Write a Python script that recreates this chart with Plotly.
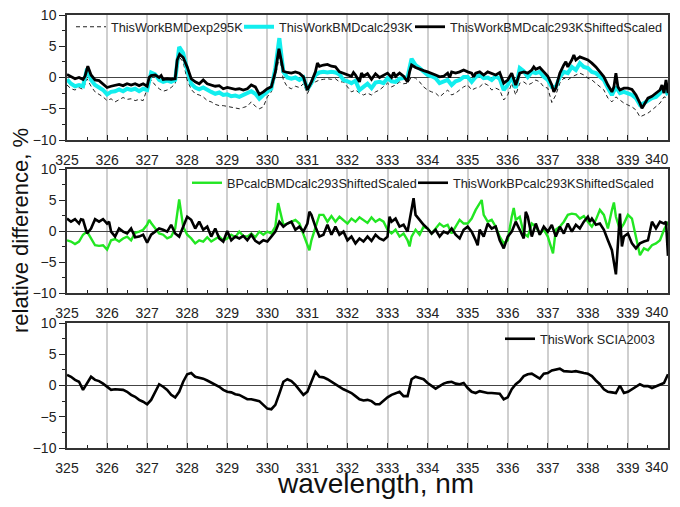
import plotly.graph_objects as go

# ---------------- data ----------------
wl_grid = [round(325 + 0.1 * i, 1) for i in range(151)]

# Panel 1
p1_exp295 = [
    -1.2, -1.8, -2.0, -1.6, -1.9, -0.2, -1.4, -2.3, -2.7, -3.1,
    -3.7, -3.4, -3.9, -3.5, -3.2, -3.5, -3.4, -3.7, -3.5, -3.7,
    -1.8, -0.4, -1.2, -1.8, -2.2, -2.0, -1.6, -1.0, 3.3, 2.5,
    -0.4, -1.9, -2.6, -2.8, -3.1, -3.7, -3.9, -4.3, -4.5, -4.5,
    -4.6, -4.7, -4.8, -5.0, -4.8, -4.6, -3.9, -4.6, -5.0, -4.7,
    -3.1, -2.3, 0.1, 3.3, -0.4, -1.5, -1.8, -1.4, -1.6, -1.0,
    -2.6, -1.2, -0.7, -0.4, -0.3, -0.2, -0.3, -0.2, -0.7, -0.7,
    -1.5, -2.3, -2.0, -2.5, -2.8, -2.5, -2.8, -2.3, -2.0, -1.5,
    -0.9, -1.5, -1.2, -0.7, -1.0, -0.9, 0.1, -0.1, -0.7, -1.5,
    -2.0, -2.3, -2.5, -3.1, -2.5, -2.0, -2.8, -2.5, -2.0, -1.5,
    -1.2, -2.0, -1.7, -1.5, -0.9, -1.2, -2.0, -1.7, -2.0, -3.6,
    -2.8, -0.9, -2.8, -0.9, -0.7, -1.2, -0.9, -0.4, -0.7, -1.5,
    -1.7, -4.0, -2.8, -0.9, -0.1, -0.4, 0.1, 0.4, 0.7, 0.4,
    -0.1, -0.4, -0.9, -1.5, -2.0, -3.3, -3.9, -3.1, -3.6, -4.1,
    -4.4, -4.7, -5.2, -6.3, -6.0, -5.7, -5.2, -4.7, -4.1, -3.1,
    -3.3,
]

p1_calc293 = [
    -0.3, -1.0, -1.4, -1.2, -1.4, 1.4, -0.4, -1.2, -1.6, -2.0,
    -2.7, -2.3, -2.2, -1.9, -2.2, -1.8, -2.0, -1.8, -2.2, -1.8,
    -2.0, 0.8, 0.5, -0.4, -0.7, -0.5, -0.7, -0.4, 4.9, 3.9,
    1.2, -1.0, -1.6, -1.9, -1.6, -2.0, -2.3, -2.6, -2.4, -2.8,
    -2.7, -3.0, -2.9, -3.1, -2.8, -2.6, -2.2, -2.6, -3.4, -2.8,
    -2.3, -1.8, 1.5, 6.3, 0.9, 0.0, -0.2, 0.0, -0.4, 0.0,
    -1.9, -0.9, 0.4, 0.8, 0.9, 0.8, 0.9, 0.8, 0.5, -0.4,
    -0.6, -0.9, -0.5, -2.0, -1.5, -1.0, -1.7, -0.8, -0.7, -0.9,
    -0.1, -0.6, -0.7, -0.2, -0.1, 0.1, 3.0, 2.0, 1.5, 0.9,
    0.4, 0.2, -0.1, -0.9, -0.6, -0.4, -1.2, -0.6, -0.4, 0.1,
    0.1, -0.7, 0.1, 0.4, -0.1, 0.0, -0.4, 0.2, -0.2, -2.0,
    -1.2, 0.1, -1.7, 1.5, 1.0, 0.1, 0.9, 0.7, 0.9, 0.1,
    -0.4, -1.5, -1.5, 0.1, 0.9, 0.7, 1.7, 1.2, 2.3, 1.7,
    1.5, 0.9, 0.7, 0.1, -0.4, -1.7, -2.8, -1.5, -2.5, -2.3,
    -2.5, -2.8, -3.3, -4.4, -4.1, -3.6, -3.3, -3.1, -2.5, -1.5,
    -2.8,
]

wl_p1_shift = [
    325.0, 325.1, 325.2, 325.3, 325.4, 325.45, 325.52, 325.6, 325.7, 325.8, 325.9,
    326.0, 326.1, 326.2, 326.3, 326.4, 326.5, 326.6, 326.7, 326.8, 326.9,
    327.0, 327.05, 327.1, 327.2, 327.3, 327.35, 327.4, 327.5, 327.6, 327.7, 327.75, 327.81, 327.9,
    328.0, 328.1, 328.2, 328.3, 328.4, 328.5, 328.6, 328.7, 328.8, 328.9,
    329.0, 329.1, 329.2, 329.3, 329.4, 329.5, 329.6, 329.7, 329.8, 329.9,
    330.0, 330.1, 330.2, 330.29, 330.4, 330.5, 330.6, 330.7, 330.8, 330.9,
    331.0, 331.1, 331.2, 331.25, 331.3, 331.4, 331.5, 331.6, 331.7, 331.8, 331.9,
    332.0, 332.1, 332.15, 332.2, 332.3, 332.35, 332.4, 332.5, 332.6, 332.7, 332.8, 332.9,
    333.0, 333.1, 333.15, 333.2, 333.3, 333.4, 333.5, 333.55, 333.6, 333.7, 333.8, 333.9,
    334.0, 334.1, 334.2, 334.3, 334.4, 334.5, 334.55, 334.6, 334.7, 334.8, 334.9,
    335.0, 335.1, 335.15, 335.2, 335.3, 335.4, 335.5, 335.6, 335.7, 335.8, 335.9,
    336.0, 336.1, 336.2, 336.3, 336.4, 336.5, 336.6, 336.65, 336.7, 336.8, 336.9,
    337.0, 337.1, 337.15, 337.2, 337.3, 337.4, 337.45, 337.5, 337.6, 337.65, 337.7, 337.8, 337.9,
    338.0, 338.1, 338.2, 338.3, 338.4, 338.5, 338.6, 338.65, 338.7, 338.75, 338.8, 338.9,
    339.0, 339.1, 339.2, 339.3, 339.35, 339.4, 339.5, 339.6, 339.7, 339.8, 339.85, 339.9, 339.95, 340.0,
]
p1_shift = [
    0.5, 0.2, -0.2, 0.0, -0.3, 0.2, 1.8, 0.4, -0.4, -0.5, -1.0,
    -1.6, -1.4, -1.3, -1.1, -1.3, -1.0, -1.2, -1.0, -1.3, -1.0,
    -1.4, 0.0, 0.3, 0.4, 0.0, 0.3, -0.3, -0.2, -0.3, -0.2, 2.8, 3.7, 3.2,
    1.7, -0.2, -0.7, -1.0, -0.4, -1.0, -1.2, -1.4, -1.3, -1.8,
    -1.6, -1.8, -1.9, -1.8, -2.0, -1.8, -1.2, -1.5, -2.7, -2.3,
    -1.8, -1.5, 0.9, 4.6, 1.0, 0.8, 0.7, 0.9, 0.7, 0.1,
    -2.0, -0.7, 0.9, 2.3, 1.8, 2.0, 2.1, 1.8, 1.7, 0.9, 0.7,
    0.4, 0.2, 0.8, 0.4, -0.7, 0.7, 0.2, 0.6, -0.3, 0.6, 0.0, 0.4,
    0.7, 0.0, 0.8, 0.2, 0.7, 0.2, -0.7, 0.9, 2.0, 1.6, 1.3, 1.1,
    0.9, 0.7, 0.4, 0.1, 0.2, 0.7, 0.0, 0.9, 0.7, 0.9, 1.2,
    0.9, 0.7, 0.1, 0.7, 0.9, 0.4, 0.9, 0.7, 0.4, 0.8, -0.9,
    -0.4, 0.7, -1.2, 0.7, 0.9, 0.7, 1.2, 1.7, 1.3, 1.6, 0.9,
    0.2, -1.2, -2.3, -1.7, 0.7, 2.0, 2.5, 1.7, 2.8, 3.6, 2.8, 3.3, 3.1,
    2.8, 2.3, 1.7, 0.9, 0.1, -1.2, -2.3, -1.5, 0.7, -1.5, -2.0, -1.7,
    -1.7, -1.9, -2.8, -4.1, -4.9, -4.4, -3.3, -3.0, -2.5, -2.0, -1.2, -2.5, -0.4, -2.5,
]

# Panel 2
wl_p2_bp = [
    325.0, 325.1, 325.2, 325.3, 325.4, 325.5, 325.6, 325.7, 325.8, 325.9,
    326.0, 326.1, 326.2, 326.3, 326.4, 326.5, 326.6, 326.7, 326.8, 326.9,
    327.0, 327.05, 327.1, 327.2, 327.3, 327.4, 327.5, 327.6, 327.7, 327.8, 327.9,
    328.0, 328.1, 328.2, 328.3, 328.4, 328.5, 328.6, 328.7, 328.8, 328.9,
    329.0, 329.1, 329.2, 329.3, 329.4, 329.5, 329.6, 329.7, 329.8, 329.9,
    330.0, 330.1, 330.2, 330.27, 330.4, 330.5, 330.6, 330.7, 330.8, 330.9,
    331.0, 331.05, 331.1, 331.2, 331.3, 331.4, 331.5, 331.6, 331.7, 331.8, 331.9,
    332.0, 332.1, 332.2, 332.3, 332.4, 332.5, 332.6, 332.7, 332.8, 332.9,
    333.0, 333.1, 333.2, 333.3, 333.4, 333.5, 333.55, 333.6, 333.7, 333.8, 333.9,
    334.0, 334.1, 334.2, 334.3, 334.4, 334.5, 334.6, 334.7, 334.8, 334.9,
    335.0, 335.1, 335.2, 335.35, 335.4, 335.5, 335.6, 335.7, 335.8, 335.9,
    336.0, 336.1, 336.15, 336.2, 336.3, 336.4, 336.5, 336.6, 336.7, 336.8, 336.9,
    337.0, 337.13, 337.2, 337.3, 337.4, 337.5, 337.6, 337.7, 337.8, 337.9,
    338.0, 338.1, 338.2, 338.3, 338.4, 338.5, 338.6, 338.65, 338.7, 338.8, 338.9,
    339.0, 339.1, 339.2, 339.3, 339.4, 339.5, 339.6, 339.7, 339.8, 339.9, 340.0,
]
p2_bp = [
    -1.5, -1.7, -2.1, -1.7, -0.6, -0.1, -1.2, -2.3, -2.4, -2.3,
    -3.0, -1.5, -1.3, -1.7, -1.2, -0.9, -1.5, -0.3, -0.1, 0.2,
    1.0, 1.8, 1.3, 0.4, -0.4, -0.6, -1.2, -0.9, 0.4, 5.1, 0.7,
    -0.6, -1.2, -2.0, -1.5, -1.7, -1.0, -1.7, -1.3, -0.9, -1.5,
    -1.2, -0.6, -1.0, -0.1, -0.8, -0.9, -0.4, -1.0, -0.1, -0.6,
    -0.1, -0.4, 0.7, 4.5, 1.0, 1.2, 1.5, 1.8, 1.2, -0.4,
    -2.0, -3.1, -1.5, 0.7, 2.6, 2.6, 1.5, 2.4, 1.5, 2.3, 1.8,
    1.2, 2.0, 1.5, 2.2, 1.8, 1.3, 2.2, 1.5, 1.9, 1.5,
    0.2, -0.4, 0.2, -0.9, -0.4, -1.5, -2.5, -0.9, 0.2, -0.6, 0.7,
    0.4, -0.4, 0.4, 1.2, 0.7, 1.0, -0.4, 0.7, 1.8, 1.2,
    1.2, 2.0, 3.4, 5.0, 2.6, 1.5, 1.8, 0.7, -0.9, -2.0,
    -1.5, 2.3, 3.7, 1.8, 2.3, -0.4, -0.9, 1.2, 0.7, -0.4, 0.2,
    -0.9, -3.6, 0.2, 0.7, 1.5, 2.6, 2.8, 2.7, 2.0, 2.4,
    1.5, 0.7, 1.8, 3.4, 2.6, 0.4, 3.4, 4.6, 2.3, 0.2, 1.2,
    2.6, 2.0, -0.9, -3.9, -2.8, -3.1, -2.3, -2.0, -1.5, 0.2, 1.5,
]

wl_p2_tw = [
    325.0, 325.1, 325.2, 325.3, 325.35, 325.4, 325.5, 325.6, 325.7, 325.8, 325.9,
    326.0, 326.05, 326.1, 326.2, 326.3, 326.4, 326.5, 326.6, 326.7, 326.8, 326.9,
    327.0, 327.1, 327.2, 327.3, 327.4, 327.5, 327.6, 327.7, 327.8, 327.9,
    328.0, 328.1, 328.2, 328.3, 328.4, 328.5, 328.6, 328.7, 328.8, 328.9,
    329.0, 329.1, 329.2, 329.3, 329.4, 329.5, 329.6, 329.7, 329.8, 329.9,
    330.0, 330.1, 330.2, 330.3, 330.4, 330.5, 330.6, 330.7, 330.8, 330.9,
    331.0, 331.05, 331.1, 331.2, 331.3, 331.4, 331.5, 331.6, 331.7, 331.8, 331.9,
    332.0, 332.1, 332.2, 332.3, 332.4, 332.5, 332.6, 332.7, 332.8, 332.9,
    333.0, 333.05, 333.1, 333.2, 333.3, 333.4, 333.5, 333.6, 333.65, 333.7, 333.8, 333.9,
    334.0, 334.1, 334.2, 334.3, 334.4, 334.5, 334.6, 334.7, 334.8, 334.9,
    335.0, 335.1, 335.2, 335.25, 335.3, 335.4, 335.5, 335.6, 335.7, 335.8, 335.9,
    336.0, 336.1, 336.2, 336.3, 336.4, 336.45, 336.5, 336.6, 336.7, 336.8, 336.9,
    337.0, 337.1, 337.2, 337.3, 337.4, 337.5, 337.6, 337.7, 337.8, 337.9,
    338.0, 338.05, 338.1, 338.2, 338.3, 338.4, 338.5, 338.6, 338.7, 338.8, 338.85, 338.9,
    339.0, 339.1, 339.2, 339.3, 339.4, 339.5, 339.6, 339.7, 339.8, 339.9, 339.95, 340.0,
]
p2_tw = [
    2.0, 1.5, 1.9, 1.2, 1.9, 1.8, -0.4, 0.4, 1.9, 1.5, 1.9,
    1.2, 1.5, -0.1, -0.9, 0.4, -0.1, -0.4, 0.4, -1.0, -0.9, -0.6,
    -1.9, -0.6, -0.1, 0.4, 0.2, -0.1, 1.0, -0.4, -0.9, 0.7,
    2.3, 1.8, 0.4, 1.5, 0.2, 0.7, -0.9, 0.4, -1.2, -1.7,
    0.0, -1.5, -0.9, -1.2, -0.8, -1.5, -0.6, -1.6, -2.0, -1.5,
    -1.7, -0.9, -0.1, 1.5, 0.7, 1.2, 1.5, 0.2, 0.7, -0.1,
    1.2, 3.1, 2.6, 0.7, -0.9, -0.6, 1.0, -0.6, 0.7, -0.6, -0.1,
    -1.5, -0.9, -2.0, -1.2, -1.7, -0.9, -1.6, -0.6, -1.2, -1.5,
    -0.9, 2.3, 1.5, 2.0, 0.7, 1.0, -0.1, 3.9, 5.3, 2.6, 1.8, 1.0,
    0.4, -0.4, 0.2, -0.9, -0.1, -0.4, 0.4, -0.6, -1.2, 0.2,
    0.7, -0.1, -1.5, -2.3, 0.2, -0.9, 1.2, 0.4, 0.7, -1.5, -2.8,
    -0.9, -0.1, 1.5, 0.2, -1.2, 3.1, 2.3, -0.9, 1.2, -0.6, 0.7,
    -0.1, 1.0, -0.9, 0.7, -0.4, 1.2, -0.1, 1.0, 0.4, 1.5,
    2.3, 1.5, 2.0, 1.0, 1.2, 0.2, -1.5, -3.1, -7.0, 2.8, -2.5, -0.9,
    -0.4, -2.0, -2.8, -2.0, -1.7, -1.5, 1.5, 0.4, 1.5, 1.2, 1.5, -4.0,
]

# Panel 3
p3_scia = [
    1.7, 1.4, 0.9, 0.6, -0.7, 0.3, 1.4, 0.9, 0.7, 0.3,
    -0.2, -0.7, -0.6, -0.6, -0.7, -1.0, -1.5, -1.8, -2.3, -2.6,
    -3.0, -2.3, -1.0, 0.2, -0.2, -0.7, -1.5, -1.9, -1.0, 0.6,
    1.8, 2.0, 1.4, 1.3, 1.1, 0.8, 0.5, 0.2, -0.2, -0.7,
    -1.0, -1.1, -1.4, -1.5, -1.9, -2.2, -2.2, -2.4, -2.5, -3.1,
    -3.7, -3.8, -3.1, -1.3, 0.6, 1.0, 0.7, 0.1, -0.7, -1.5,
    -1.0, 0.6, 2.2, 1.4, 1.3, 1.0, 0.6, 0.1, -0.2, -0.6,
    -0.9, -1.2, -1.7, -2.2, -2.4, -2.3, -2.5, -3.0, -3.0, -2.4,
    -1.9, -1.5, -1.2, -1.0, -1.7, -1.7, 1.0, 1.4, 1.2, 1.0,
    0.4, -0.1, -0.5, -0.1, 0.3, 0.5, 0.6, 0.3, 0.2, 0.4,
    -0.4, -1.0, -1.2, -0.9, -1.1, -1.2, -1.2, -1.2, -1.3, -2.2,
    -1.9, -0.6, 0.2, 0.7, 1.5, 1.8, 1.9, 1.5, 1.1, 1.9,
    2.0, 2.4, 2.6, 2.7, 2.3, 2.2, 2.2, 2.3, 2.1, 2.0,
    1.9, 1.5, 0.8, 0.2, -0.6, -1.0, -1.1, -1.2, 0.0, -1.2,
    -1.0, -0.6, -0.3, 0.2, -0.1, -0.1, -0.4, -0.1, 0.1, 0.4,
    1.8,
]

x_ticks = list(range(325, 341))
x_ticktext = [str(v) for v in x_ticks[:-1]] + [""]   # last label drawn separately
last_tick = x_ticks[-1]
y_ticks = [-10, -5, 0, 5, 10]

# ---------------- figure ----------------
FONT = "Liberation Sans, Arial, sans-serif"
OFF = 8                    # page body margin of the browser
W, H = 680 - 2 * OFF, 507 - 2 * OFF


def PX(px):
    return (px - OFF) / W


def PY(py):
    return 1 - (py - OFF) / H


fig = go.Figure()


def add(x, y, xa, ya, name, color, width, legend, dash=None):
    fig.add_trace(go.Scatter(
        x=x, y=y, xaxis=xa, yaxis=ya, mode="lines", name=name,
        line=dict(color=color, width=width, dash=dash),
        legend=legend, showlegend=True,
    ))


add(wl_grid, p1_exp295, "x", "y", "ThisWorkBMDexp295K", "#222222", 1, "legend", dash="4px,3px")
add(wl_grid, p1_calc293, "x", "y", "ThisWorkBMDcalc293K", "#12EEEE", 4, "legend2")
add(wl_p1_shift, p1_shift, "x", "y", "ThisWorkBMDcalc293KShiftedScaled", "#000000", 2.8, "legend3")
add(wl_p2_bp, p2_bp, "x2", "y2", "BPcalcBMDcalc293ShiftedScaled", "#22E622", 2.4, "legend4")
add(wl_p2_tw, p2_tw, "x2", "y2", "ThisWorkBPcalc293KShiftedScaled", "#000000", 2.6, "legend5")
add(wl_grid, p3_scia, "x3", "y3", "ThisWork SCIA2003", "#000000", 2.6, "legend6")

xdom = [PX(67), PX(668)]
panels = [(15, 140), (169, 293), (323, 448)]
TICKFONT = dict(family=FONT, size=14, color="#222")


def xaxis_cfg(anchor):
    return dict(
        domain=xdom, anchor=anchor, range=[325, 340], automargin=False,
        tickvals=x_ticks, ticktext=x_ticktext,
        ticks="inside", ticklen=5, tickwidth=1.2, tickcolor="#222",
        minor=dict(dtick=0.5, tick0=325, ticks="inside", ticklen=3, tickcolor="#222", showgrid=False),
        showgrid=True, gridcolor="#CFCFCF", gridwidth=1.5,
        showline=True, linecolor="#333", linewidth=1.5, mirror=True,
        zeroline=False, ticklabelstandoff=6, ticklabeloverflow="allow",
        tickfont=TICKFONT,
    )


def yaxis_cfg(anchor, top, bot):
    return dict(
        domain=[PY(bot), PY(top)], anchor=anchor, range=[-10, 10], automargin=False,
        tickvals=y_ticks, ticks="outside", ticklen=6, tickwidth=1.2, tickcolor="#222",
        minor=dict(dtick=2.5, tick0=0, ticks="outside", ticklen=3, tickcolor="#222", showgrid=False),
        showgrid=False, zeroline=True, zerolinecolor="#444", zerolinewidth=1.3,
        showline=True, linecolor="#333", linewidth=1.5, mirror=True,
        ticklabeloverflow="allow",
        tickfont=TICKFONT,
    )


layout = dict(
    width=W, height=H,
    margin=dict(l=0, r=0, t=0, b=0, pad=0, autoexpand=False),
    paper_bgcolor="white", plot_bgcolor="white",
    font=dict(family=FONT, color="#222"),
    xaxis=xaxis_cfg("y"), xaxis2=xaxis_cfg("y2"), xaxis3=xaxis_cfg("y3"),
    yaxis=yaxis_cfg("x", *panels[0]),
    yaxis2=yaxis_cfg("x2", *panels[1]),
    yaxis3=yaxis_cfg("x3", *panels[2]),
)

# one legend per entry, placed to match the reference
leg_pos = {
    "legend": (71, 27), "legend2": (239, 27), "legend3": (410, 27),
    "legend4": (187, 183), "legend5": (413, 183), "legend6": (500, 339),
}
for key, (px, py) in leg_pos.items():
    layout[key] = dict(
        x=PX(px), y=PY(py), xanchor="left", yanchor="middle",
        orientation="h", bgcolor="rgba(0,0,0,0)", borderwidth=0,
        font=dict(family=FONT, size=12.7, color="#222"),
        itemwidth=30, tracegroupgap=0,
    )

fig.update_layout(**layout)

# last x tick label of each panel, kept inside the visible page
for xref, (_, bot) in zip(["x", "x2", "x3"], panels):
    fig.add_annotation(
        text=str(last_tick), xref=xref, x=last_tick, yref="paper", y=PY(bot + 19),
        xanchor="right", yanchor="middle", xshift=3, showarrow=False, font=TICKFONT,
    )

fig.add_annotation(
    text="relative difference, %", xref="paper", yref="paper",
    x=PX(20), y=PY(231), showarrow=False, textangle=-90,
    font=dict(family=FONT, size=22, color="#111"), xanchor="center", yanchor="middle",
)
fig.add_annotation(
    text="wavelength, nm", xref="paper", yref="paper",
    x=PX(375), y=PY(483), showarrow=False,
    font=dict(family=FONT, size=28, color="#111"), xanchor="center", yanchor="middle",
)

fig.write_html("out.html")
